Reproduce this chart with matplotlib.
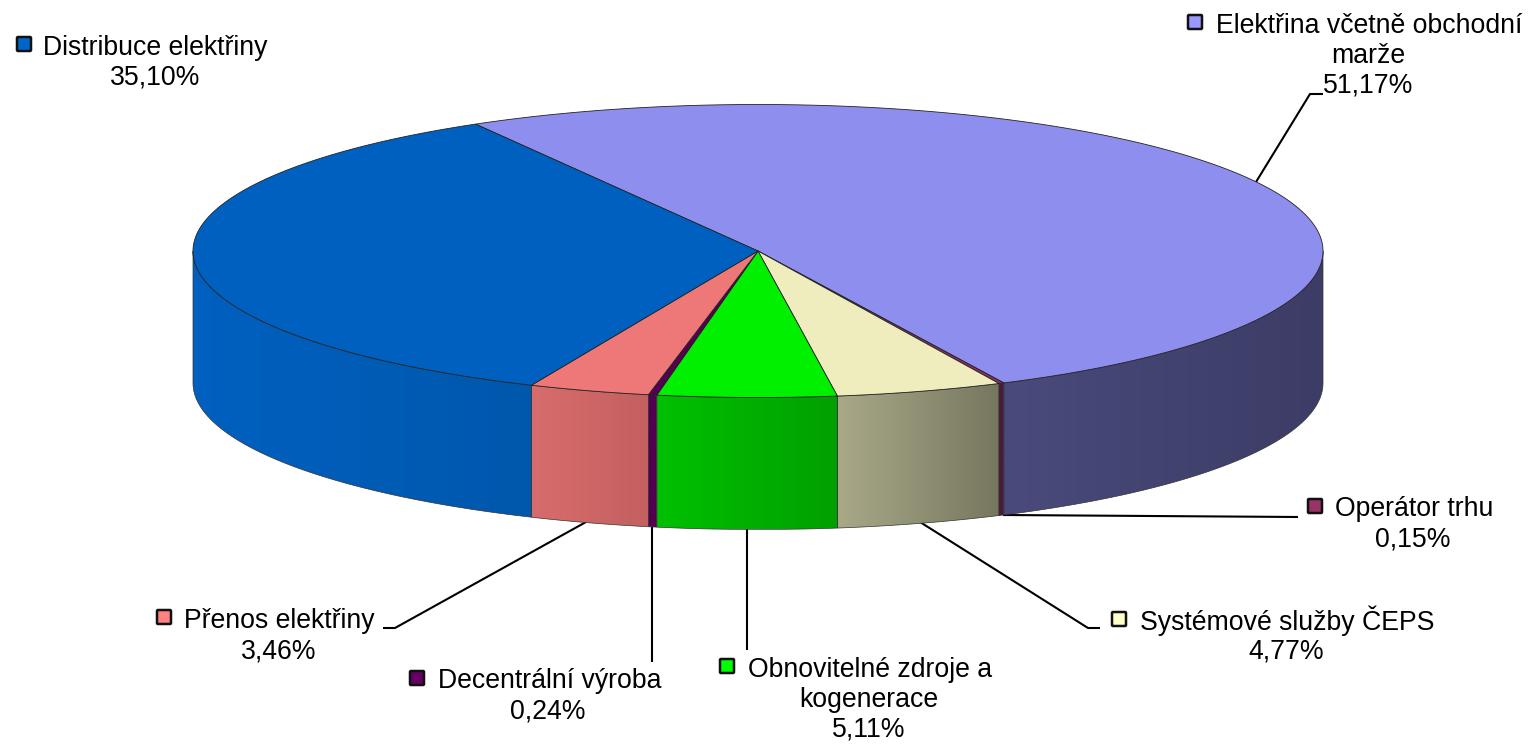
import numpy as np
import matplotlib
matplotlib.use('Agg')
import matplotlib.pyplot as plt
from matplotlib.colors import to_rgb
from matplotlib.patches import Polygon, FancyBboxPatch

plt.rcParams['font.family'] = ['Liberation Sans', 'DejaVu Sans']

#data, clockwise from the top left edge of the biggest slice
labels = [['Elektřina včetně obchodní', 'marže'], ['Operátor trhu'], ['Systémové služby ČEPS'],
          ['Obnovitelné zdroje a', 'kogenerace'], ['Decentrální výroba'], ['Přenos elektřiny'],
          ['Distribuce elektřiny']]
values = [51.17, 0.15, 4.77, 5.11, 0.24, 3.46, 35.10]

#colours
top_colors = ['#8e8eee', '#8a2f66', '#efedbd', '#00f000', '#52004f', '#ee7878', '#0060c0']
side_left = ['#4a4a7c', '#4a1a40', '#a9a988', '#00c000', '#52004f', '#d86c6c', '#0060c0']
side_right = ['#3c3c66', '#4a1a40', '#777760', '#00a000', '#52004f', '#c46060', '#0058ac']
key_colors = ['#9999ff', '#993366', '#ffffcc', '#00ff00', '#660066', '#ff8080', '#0066cc']

#pie geometry in pixels
cx, cy = 758, 251
rx, ry = 565, 146.5
depth = 132
start_angle = 120.0

#text and leader positions in pixels: key x, key y, text left, text centre, first line y
label_pos = [(1195, 22, 1216, 1368, 26), (1315, 506, 1335, 1413, 509), (1119, 619, 1140, 1286, 621),
             (727, 666, 748, 869, 670), (417, 678, 438, 548, 681), (164, 617, 184, 279, 621),
             (24, 44, 43, 155, 48)]
leaders = [[(1256, 182), (1310, 94), (1323, 94)], [(1003, 515), (1298, 517)],
           [(920, 522), (1088, 628), (1100, 628)], [(747, 529), (747, 650)],
           [(652, 527), (652, 662)], [(586, 522), (395, 628), (383, 628)]]


def rim(t1, t2, n=200):
    t = np.radians(np.linspace(t1, t2, n))
    return cx + rx * np.cos(t), cy - ry * np.sin(t)


fig = plt.figure(figsize=(15.3, 7.45), dpi=100)
ax = fig.add_axes([0, 0, 1, 1])

sweeps = np.array(values) / sum(values) * 360
ends = start_angle - np.cumsum(sweeps)
starts = ends + sweeps

#sides first, only the front half of the rim shows
for i in range(len(values)):
    t1 = min(starts[i], 0)
    t2 = max(ends[i], -180)
    if t1 <= t2:
        continue
    x, y = rim(t1, t2)
    outline = np.r_[np.c_[x, y], np.c_[x[::-1], y[::-1] + depth]]
    poly = Polygon(outline, closed=True, fc='none', ec='#333333', lw=0.5, zorder=3)
    ax.add_patch(poly)
    grad = np.linspace(to_rgb(side_left[i]), to_rgb(side_right[i]), 256)[None, :, :]
    im = ax.imshow(grad, extent=(x.min(), x.max(), y.max() + depth, y.min()), aspect='auto',
                   interpolation='bilinear', zorder=2)
    im.set_clip_path(poly)

#top of the pie
for i in range(len(values)):
    x, y = rim(starts[i], ends[i], 400)
    pts = np.r_[[(cx, cy)], np.c_[x, y]]
    ax.add_patch(Polygon(pts, closed=True, fc=top_colors[i], ec='#222222', lw=0.6, zorder=4))

for pts in leaders:
    pts = np.array(pts)
    ax.plot(pts[:, 0], pts[:, 1], color='black', lw=1.5, zorder=1, solid_capstyle='butt')

for i in range(len(values)):
    kx, ky, tx, tc, ty = label_pos[i]
    ax.add_patch(FancyBboxPatch((kx - 6, ky - 6), 12, 12, boxstyle='round,pad=1', fc=key_colors[i],
                                ec='#111111', lw=1.8, zorder=5))
    lines = labels[i] + [f'{values[i]:.2f}%'.replace('.', ',')]
    for j, line in enumerate(lines):
        if j == 0:
            ax.text(tx, ty, line, fontsize=19.2, ha='left', va='center', zorder=6)
        else:
            ax.text(tc, ty + 30 * j, line, fontsize=19.2, ha='center', va='center', zorder=6)

ax.set_xlim(0, 1530)
ax.set_ylim(745, 0)
ax.axis('off')
fig.savefig('out.png', dpi=100, facecolor='white')
